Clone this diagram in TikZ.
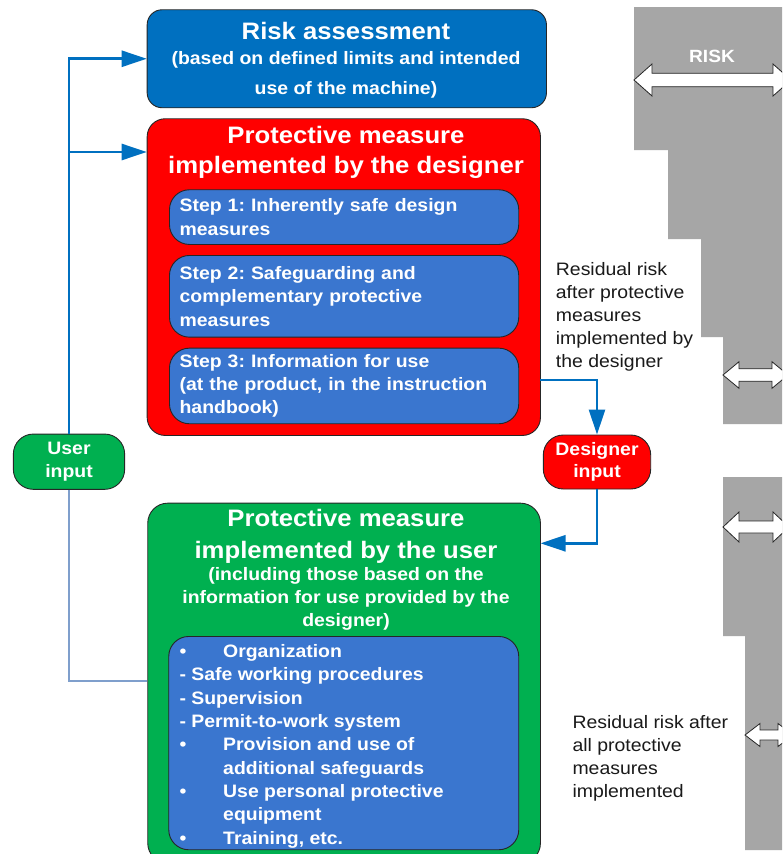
\documentclass[tikz,border=0pt]{standalone}
\usepackage{fontspec}
\setmainfont{Liberation Sans}[FakeStretch=1.08]
\usetikzlibrary{arrows.meta}
\definecolor{riskblue}{HTML}{0070C0}
\definecolor{desred}{HTML}{FF0000}
\definecolor{usergreen}{HTML}{00B050}
\definecolor{stepblue}{HTML}{3A76CF}
\definecolor{riskgray}{HTML}{A6A6A6}
\definecolor{connblue}{HTML}{0070C0}
\definecolor{connlight}{HTML}{7F9FCC}
\definecolor{outline}{HTML}{262626}
\definecolor{restext}{HTML}{1A1A1A}
\newcommand{\riskarrowshape}[6]{%
  \draw[dblarr] (#1,#3) -- ({#1+#4},{#3-#5}) -- ({#1+#4},{#3-#6}) -- ({#2-#4},{#3-#6})
    -- ({#2-#4},{#3-#5}) -- (#2,#3) -- ({#2-#4},{#3+#5}) -- ({#2-#4},{#3+#6})
    -- ({#1+#4},{#3+#6}) -- ({#1+#4},{#3+#5}) -- cycle;}
\frenchspacing
\begin{document}
\frenchspacing
\begin{tikzpicture}[x=1pt,y=-1pt,
  mainbox/.style={draw=outline, line width=0.9pt, anchor=north west, inner sep=0pt},
  stepbox/.style={draw=outline, line width=0.9pt, fill=stepblue, rounded corners=20pt,
    anchor=north west, minimum width=349.3pt, text width=329pt, align=left,
    inner xsep=10pt, inner ysep=0pt, text=white,
    font=\bfseries\fontsize{18}{23.3}\selectfont\frenchspacing},
  pill/.style={draw=outline, line width=0.9pt, rounded corners=20pt, align=center,
    inner sep=0pt, text=white, font=\bfseries\fontsize{18}{22.6}\selectfont},
  ttl/.style={text=white, inner sep=0pt, align=center,
    font=\bfseries\fontsize{23.8}{30}\selectfont},
  subt/.style={text=white, inner sep=0pt, align=center,
    font=\bfseries\fontsize{18}{23}\selectfont},
  listtxt/.style={text=white, inner sep=0pt, align=left,
    font=\bfseries\fontsize{18}{23.34}\selectfont},
  restxt/.style={text=restext, inner sep=0pt, align=left,
    font=\fontsize{18}{23.1}\selectfont},
  risklbl/.style={text=white, inner sep=0pt, font=\bfseries\fontsize{17.7}{20}\selectfont},
  conn/.style={draw=connblue, line width=2.6pt},
  connlt/.style={draw=connlight, line width=2.6pt},
  tip/.style={-{Triangle[length=25pt,width=16pt]}},
  dblarr/.style={draw=outline, line width=0.8pt, fill=white, line join=miter}
]
\useasboundingbox (0,0) rectangle (782,854);
\clip (0,0) rectangle (782,854);
\fill[white] (0,0) rectangle (782,854);

% risk staircase
\fill[riskgray] (634,7) -- (790,7) -- (790,424) -- (723,424) -- (723,337) -- (701,337)
  -- (701,239) -- (668,239) -- (668,150) -- (634,150) -- cycle;
\fill[riskgray] (723,477) -- (790,477) -- (790,850) -- (745,850) -- (745,636) -- (723,636) -- cycle;
\riskarrowshape{634}{791}{80}{18}{16}{6.7}
\riskarrowshape{723}{788}{375}{16}{13.3}{6.2}
\riskarrowshape{723}{789}{527}{16}{15}{6}
\riskarrowshape{745}{793}{735}{15}{11.5}{5}
\node[risklbl, anchor=base] (risklbl) at (712,62.3) {RISK};

% boxes
\node[mainbox, fill=riskblue, rounded corners=15pt, minimum width=399.3pt, minimum height=98pt] (risk) at (146.7,9.3) {};
\node[mainbox, fill=desred, rounded corners=18pt, minimum width=393.3pt, minimum height=316.7pt] (design) at (146.7,118.3) {};
\node[stepbox, minimum height=54.7pt] (step1) at (169,189.3) {Step 1: Inherently safe design\\measures};
\node[stepbox, minimum height=81.7pt] (step2) at (169,255) {Step 2: Safeguarding and\\complementary protective\\measures};
\node[stepbox, minimum height=75.6pt] (step3) at (169,347.7) {Step 3: Information for use\\(at the product, in the instruction\\handbook)};
\node[mainbox, fill=usergreen, rounded corners=20pt, minimum width=392.7pt, minimum height=360pt] (user) at (147.3,502.7) {};
\node[mainbox, fill=stepblue, rounded corners=20pt, minimum width=350pt, minimum height=213.3pt] (measures) at (168.3,636) {};
\node[pill, fill=usergreen, minimum width=111.3pt, minimum height=55.3pt] (userin) at (69,461.7) {User\\input};
\node[pill, fill=desred, minimum width=107.4pt, minimum height=54pt] (desin) at (597,462) {Designer\\input};

% texts
\node[ttl, anchor=base] (riskT) at (346,39.3) {Risk assessment};
\node[subt, anchor=north, font=\bfseries\fontsize{18}{29.7}\selectfont] (riskS) at (346,51.2) {(based on defined limits and intended\\use of the machine)};
\node[ttl, anchor=north] (designT) at (346,126.2) {Protective measure\\implemented by the designer};
\node[ttl, anchor=north, font=\bfseries\fontsize{23.8}{32}\selectfont] (userT) at (346,508.9) {Protective measure\\implemented by the user};
\node[subt, anchor=north] (userS) at (346,567.6) {(including those based on the\\information for use provided by the\\designer)};
\node[listtxt, anchor=north west] (measT) at (179.3,644.3) {%
\makebox[43.7pt][l]{•}Organization\\
- Safe working procedures\\
- Supervision\\
- Permit-to-work system\\
\makebox[43.7pt][l]{•}Provision and use of\\
\hspace*{43.7pt}additional safeguards\\
\makebox[43.7pt][l]{•}Use personal protective\\
\hspace*{43.7pt}equipment\\
\makebox[43.7pt][l]{•}Training, etc.};
\node[restxt, anchor=north west] (res1) at (555.7,262) {Residual risk\\after protective\\measures\\implemented by\\the designer};
\node[restxt, anchor=north west] (res2) at (572.3,715.3) {Residual risk after\\all protective\\measures\\implemented};

% connectors
\coordinate (designin) at (146.7,152);
\coordinate (designout) at (540,380);
\coordinate (userinlet) at (540.5,543.3);
\coordinate (userleft) at (147.3,681);
\draw[conn, tip] (userin.north) |- (risk.west);
\draw[conn, tip] (userin.north |- designin) -- (designin);
\draw[conn, tip] (designout) -| (desin.north);
\draw[conn, tip] (desin.south) |- (userinlet);
\draw[connlt] (userin.south) |- (userleft);
\end{tikzpicture}
\end{document}
